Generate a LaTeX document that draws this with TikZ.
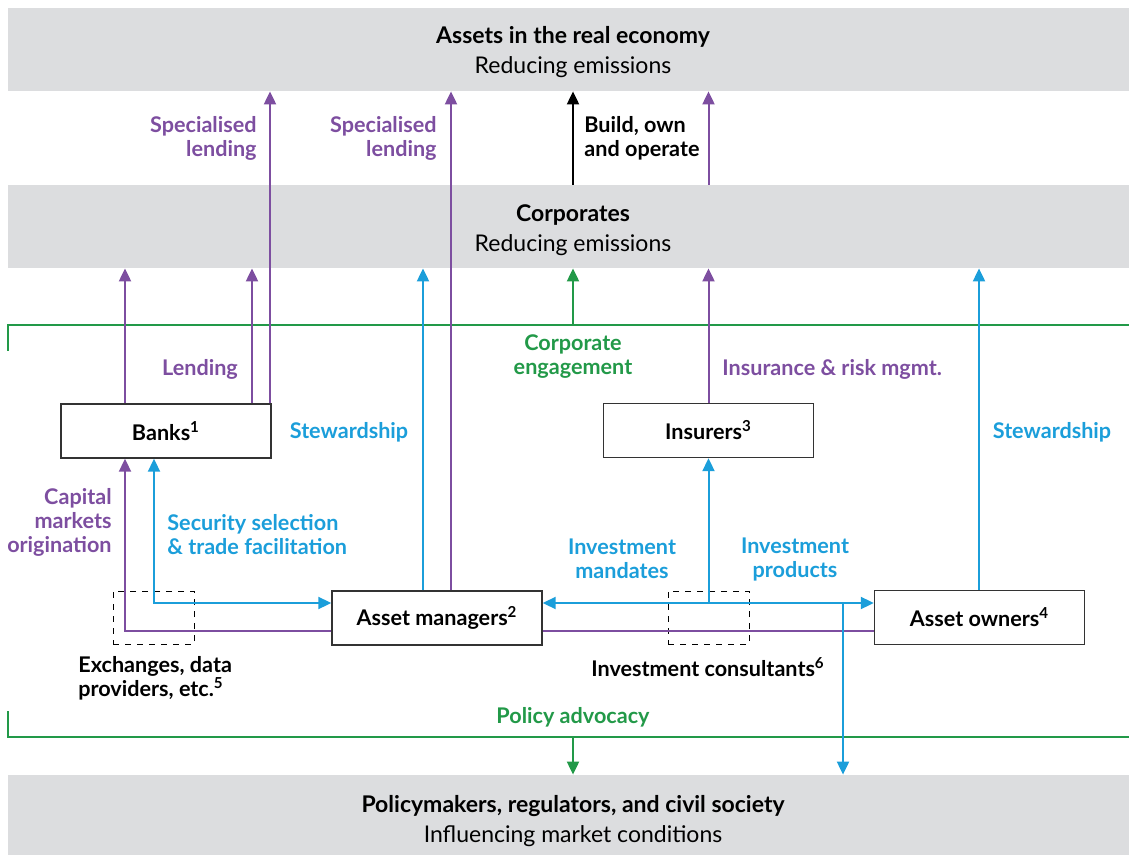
\documentclass[tikz,border=0pt]{standalone}
\usepackage{fontspec}
\setmainfont{Lato}
\usetikzlibrary{arrows.meta}

\definecolor{lila}{RGB}{125,78,160}
\definecolor{blau}{RGB}{27,158,218}
\definecolor{gruen}{RGB}{34,153,72}
\definecolor{band}{RGB}{220,221,223}

\tikzset{
  tip/.tip={Triangle[width=6pt,length=6.5pt]},
  pil/.style={-tip},
  flow/.style={line width=1pt},
  bandbox/.style={fill=band, inner sep=0pt, minimum width=565pt},
  bandtxt/.style={align=center, inner sep=0pt, font=\fontsize{11.5}{15}\selectfont},
  actor/.style={draw=black!80, line width=0.7pt, fill=white, minimum width=105pt,
    minimum height=27pt, inner sep=0pt},
  dashbox/.style={draw, dashed, line width=0.5pt, minimum width=40.5pt,
    minimum height=26.5pt, inner sep=0pt},
  lbl/.style={inner sep=0pt},
}

\begin{document}
\begin{tikzpicture}[x=0.5pt, y=-0.5pt, font=\fontsize{10.8}{12}\selectfont\bfseries]
\useasboundingbox (0,0) rectangle (1129,855);

% Graue Baender
\node[bandbox, minimum height=41.5pt] (assets) at (573,49.5) {};
\node[bandbox, minimum height=41.5pt] (corp) at (573,226.5) {};
\node[bandbox, minimum height=43.5pt] (policy) at (573,818.5) {};
\node[bandtxt] (assetstxt) at (573,52) {\textbf{Assets in the real economy}\\Reducing emissions};
\node[bandtxt] (corptxt) at (573,230) {\textbf{Corporates}\\Reducing emissions};
\node[bandtxt] (policytxt) at (573,821)
  {\textbf{Policymakers, regulators, and civil society}\\Influencing market conditions};

% Akteure
\node[actor] (banks) at (166,431) {Banks\textsuperscript{1}};
\node[actor] (ins) at (708.5,430.5) {Insurers\textsuperscript{3}};
\node[actor] (am) at (437,618) {Asset managers\textsuperscript{2}};
\node[actor] (ao) at (979.5,617.5) {Asset owners\textsuperscript{4}};
\node[dashbox] (exch) at (153.5,617.5) {};
\node[dashbox] (cons) at (708.5,617.5) {};

% Spuren der Linien
\foreach \n/\x in {cm/125, sel/154, lend/252, spec/270, stewam/423, specam/451,
                   mid/573, drop/843, stewao/979}
  \coordinate (\n) at (\x,0);
\coordinate (row1) at (0,603);
\coordinate (row2) at (0,631);

% Klammern: Engagement und Policy
\draw[gruen, flow] (8,351) |- (1129,325) coordinate (engage);
\draw[gruen, flow] (8,711) |- (1129,737) coordinate (advoc);
\draw[gruen, flow, pil] (mid |- engage) -- (corp.south);
\draw[gruen, flow, pil] (mid |- advoc) -- (policy.north);

% Banken
\draw[lila, flow, pil] (banks.north -| cm) -- (corp.south -| cm);
\draw[lila, flow, pil] (banks.north -| lend) -- (corp.south -| lend);
\draw[lila, flow, pil] (banks.north -| spec) -- (assets.south -| spec);
\draw[lila, flow, pil] (am.west |- row2) -| (banks.south -| cm);
\draw[blau, flow, tip-tip] (banks.south -| sel) |- (am.west |- row1);

% Asset managers
\draw[blau, flow, pil] (am.north -| stewam) -- (corp.south -| stewam);
\draw[lila, flow, pil] (am.north -| specam) -- (assets.south -| specam);

% Corporates und Versicherer
\draw[black, flow, pil] (corp.north) -- (assets.south);
\draw[lila, flow, pil] (corp.north -| ins) -- (assets.south -| ins);
\draw[lila, flow, pil] (ins.north) -- (corp.south -| ins);

% Mandate, Produkte, Asset owners
\draw[blau, flow, tip-tip] (am.east |- row1) -- (ao.west |- row1);
\draw[lila, flow] (am.east |- row2) -- (ao.west |- row2);
\draw[blau, flow, pil] (ins.south |- row1) -- (ins.south);
\draw[blau, flow, pil] (drop |- row1) -- (policy.north -| drop);
\draw[blau, flow, pil] (ao.north -| stewao) -- (corp.south -| stewao);

% Beschriftungen
\node[lbl, lila, align=right, anchor=east] (sl1) at (257,138) {Specialised\\lending};
\node[lbl, lila, align=right, anchor=east] (sl2) at (437,138) {Specialised\\lending};
\node[lbl, align=left, anchor=west] (bo) at (584,138) {Build, own\\and operate};
\node[lbl, lila] (lendlbl) at (200,369) {Lending};
\node[lbl, gruen, align=center] (englbl) at (573,357) {Corporate\\engagement};
\node[lbl, lila, anchor=west] (risk) at (722,369) {Insurance \& risk mgmt.};
\node[lbl, blau] (stw1) at (349,432) {Stewardship};
\node[lbl, blau] (stw2) at (1052,432) {Stewardship};
\node[lbl, lila, align=right, anchor=east] (cmo) at (112,522) {Capital\\markets\\origination};
\node[lbl, blau, align=left, anchor=west] (secl) at (167,535) {Security selection\\\& trade facilitation};
\node[lbl, blau, align=center] (mand) at (622,559) {Investment\\mandates};
\node[lbl, blau, align=center] (prod) at (795,559) {Investment\\products};
\node[lbl, align=left, anchor=west] (exlbl) at (78,678) {Exchanges, data\\providers, etc.\textsuperscript{5}};
\node[lbl] (conslbl) at (708,667) {Investment consultants\textsuperscript{6}};
\node[lbl, gruen] (poladv) at (573,717) {Policy advocacy};

\end{tikzpicture}
\end{document}
